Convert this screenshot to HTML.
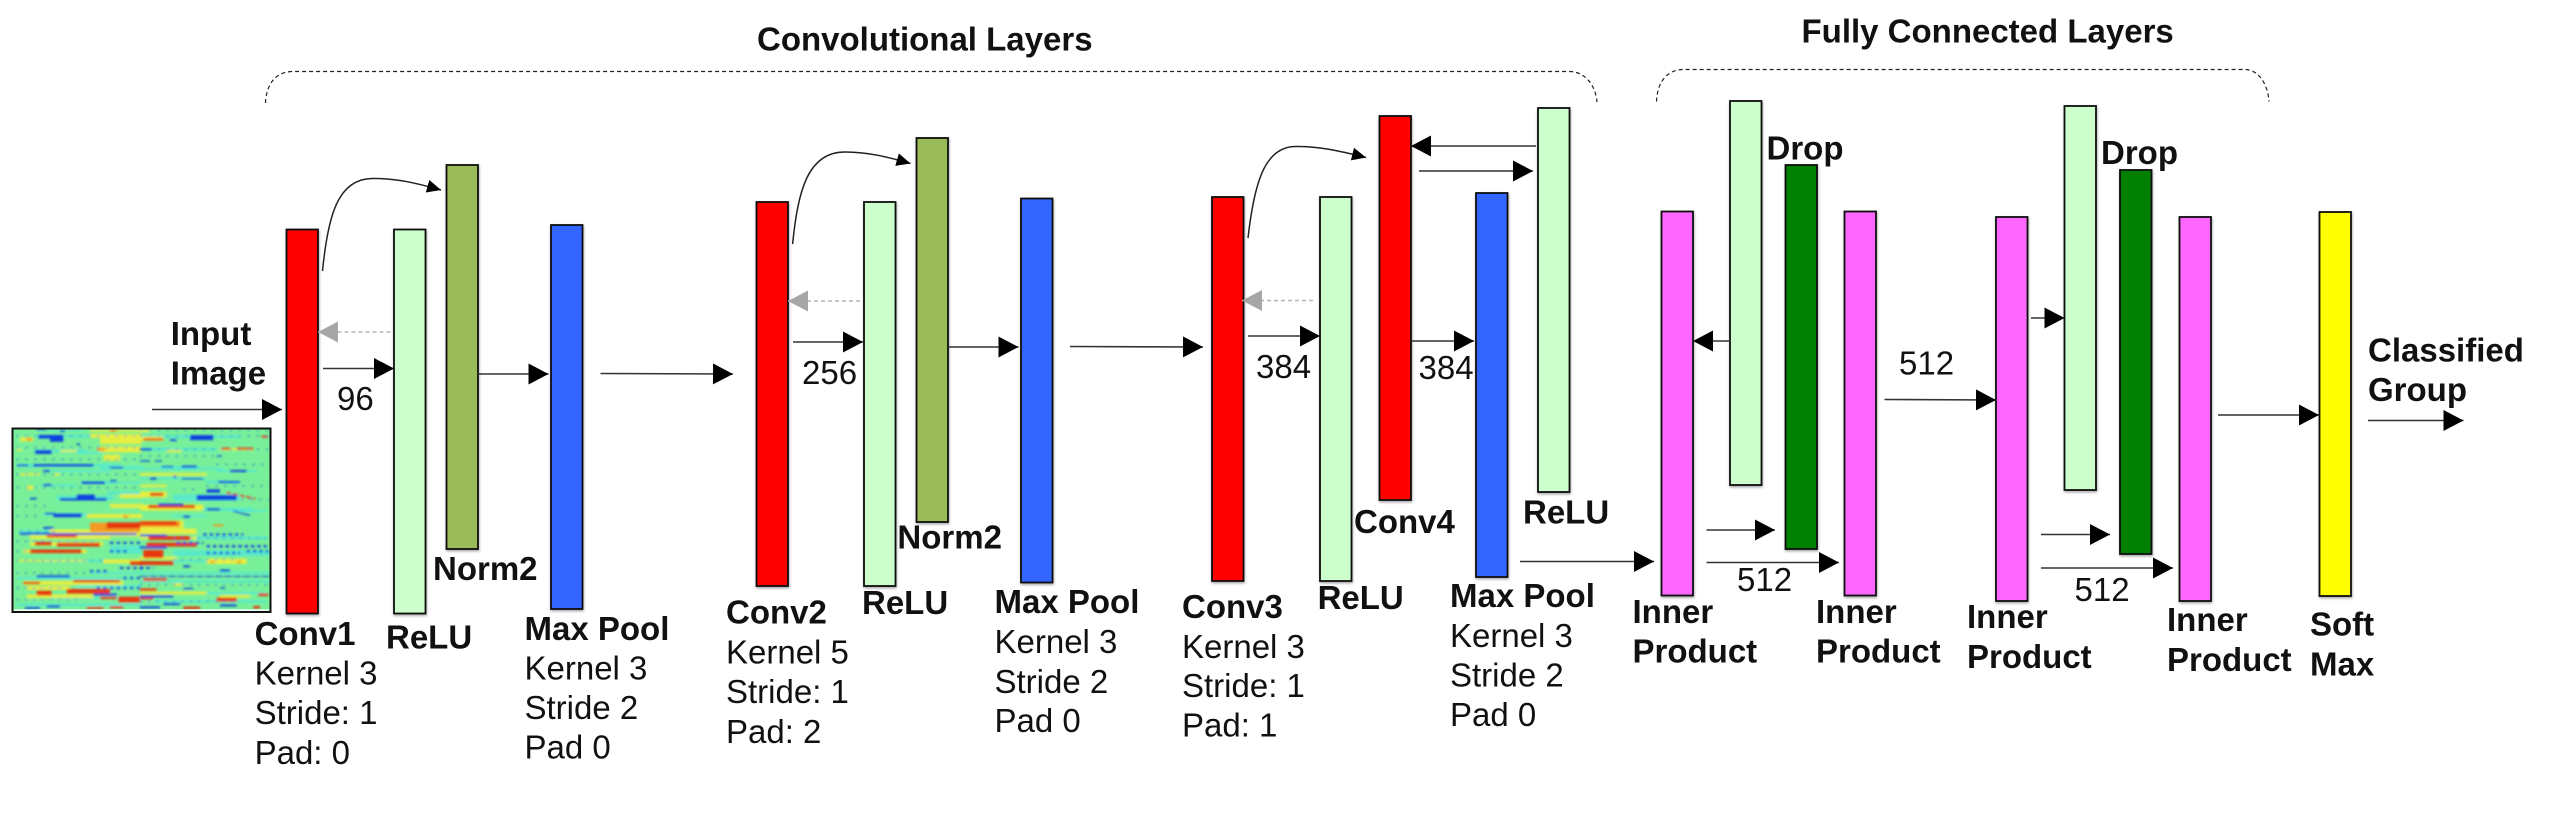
<!DOCTYPE html>
<html><head><meta charset="utf-8"><title>CNN architecture</title>
<style>
html,body{margin:0;padding:0;background:#fff}
svg{display:block}
text{font-family:"Liberation Sans",Arial,sans-serif;font-size:33px;fill:#111}
.b{font-weight:bold}
.ln line{stroke:#333;stroke-width:1.6;marker-end:url(#ah)}
.bars rect{stroke:#111;stroke-width:1.8;filter:url(#sh)}
.q{filter:url(#bl);fill:none}
.c path{stroke:#4ce6de;opacity:.7}.y path{stroke:#e6ee42}.o path{stroke:#f29a20}.r path{stroke:#e8380f}.u path{stroke:#0d3fe0}
</style></head>
<body>
<svg width="2558" height="816" viewBox="0 0 2558 816" xmlns="http://www.w3.org/2000/svg">
<defs>
<marker id="ah" markerUnits="userSpaceOnUse" markerWidth="22" markerHeight="22" refX="20" refY="10.5" orient="auto"><path d="M0 0L20 10.5L0 21Z" fill="#000"/></marker>
<marker id="ag" markerUnits="userSpaceOnUse" markerWidth="22" markerHeight="22" refX="20" refY="10.5" orient="auto"><path d="M0 0L20 10.5L0 21Z" fill="#a6a6a6"/></marker>
<marker id="as" markerUnits="userSpaceOnUse" markerWidth="16" markerHeight="16" refX="14" refY="6.5" orient="auto"><path d="M0 0L14 6.5L0 13Z" fill="#000"/></marker>
<filter id="sh" x="-30%" y="-5%" width="160%" height="110%"><feDropShadow dx="0.5" dy="1.5" stdDeviation="1.2" flood-color="#000" flood-opacity=".35"/></filter>
<filter id="bl" filterUnits="userSpaceOnUse" x="-20" y="-20" width="440" height="330"><feGaussianBlur stdDeviation="3"/></filter>
<clipPath id="hc"><rect x="12.500" y="428.500" width="257" height="183"/></clipPath>
</defs>

<!-- heatmap -->
<rect x="12.500" y="428.500" width="258" height="183.500" fill="#78f09a"/>
<g clip-path="url(#hc)">
<!-- top-left -->
<g class="q" transform="translate(10 426) scale(.33333)">
<g class="c"><path stroke-width="6" d="M80 12H220M90 178H200M200 80H280M300 170H396M100 135H300"/><path stroke-width="9" d="M80 30H240M70 75H230M20 118H330M210 170H300M100 265H240M290 200H396M270 125H396"/><path stroke-width="14" d="M140 215H310"/></g>
<g class="y"><path stroke-width="12" d="M30 40H70M240 30H396M50 185H70M330 210H396M300 240H396M230 270H396"/><path stroke-width="18" d="M270 70H396M280 95H330M270 45H396"/><path stroke-width="6" d="M20 72H35M30 145H90M130 145H150M240 15H396M150 75H200"/></g>
<g class="o"><path stroke-width="8" d="M300 13H320M260 70H285M340 272H355M50 40H65"/></g>
<g class="u"><path stroke-width="11" d="M85 32H160M120 42H160M75 78H125M130 268H215"/><path stroke-width="5" d="M150 15H165M80 10H110M20 118H55M100 135H120M300 125H340M100 177H125M300 165H320M60 218H80M105 263H135M200 55H210"/><path stroke-width="7" d="M70 118H250M215 170H285M150 220H290"/><path stroke-width="16" d="M200 214H255"/><path stroke-width="3" stroke-dasharray="5 22" d="M20 30H396M20 65H396M20 100H396M20 145H396M20 185H396M20 240H120M20 270H100"/></g>
</g>
<!-- top-right -->
<g class="q" transform="translate(140 426) scale(.33333)">
<g class="c"><path stroke-width="9" d="M0 32H300M0 70H230M60 125H180M200 168H300M180 250H340"/><path stroke-width="6" d="M0 128H250M230 135H350M0 158H200M270 255H380M100 270H200"/><path stroke-width="20" d="M100 215H300"/></g>
<g class="y"><path stroke-width="18" d="M0 205H80M0 245H190"/><path stroke-width="14" d="M0 38H70"/><path stroke-width="7" d="M0 145H200M80 75H125M240 70H340M0 15H30M0 180H80"/></g>
<g class="r"><path stroke-width="9" d="M25 242H165M30 205H70"/><path stroke-width="6" d="M290 68H340M245 68H270M365 32H385M10 40H70"/><path stroke-width="5" stroke-dasharray="14 6" d="M260 200L345 218"/></g>
<g class="u"><path stroke-width="15" d="M150 35H220M170 215H290"/><path stroke-width="6" d="M55 236H130M90 42H110M125 122H170M235 168H300M270 135H320M30 158H50M100 152H110M130 272H150M200 250H240M0 70H35"/><path stroke-width="4" d="M0 105H30M45 105H65M65 122H100M125 158H190M280 255L330 268M230 90H245"/><path stroke-width="10" d="M200 195H240"/><path stroke-width="3" stroke-dasharray="5 22" d="M0 12H396M0 30H396M0 70H396M0 90H220M230 115H396M200 180H396M130 190H180M250 220H390"/></g>
</g>
<!-- bottom-left -->
<g class="q" transform="translate(10 518) scale(.33333)">
<g class="c"><path stroke-width="7" d="M25 40H396M100 128H320M240 165H396M20 180H380M200 205H396M120 240H396M20 260H396"/><path stroke-width="24" d="M300 95H396"/></g>
<g class="y"><path stroke-width="22" d="M120 45H396"/><path stroke-width="11" d="M60 58H300M60 78H280M40 100H230M50 210H180M50 235H250"/><path stroke-width="5" d="M20 128H230"/><path stroke-width="12" d="M280 20H396M280 130H396M40 195H340"/></g>
<g class="o"><path stroke-width="28" d="M240 28H396"/></g>
<g class="r"><path stroke-width="18" d="M290 22H396M325 245H390"/><path stroke-width="11" d="M75 77H125M140 80H270M60 100H215M360 135H396"/><path stroke-width="7" d="M110 55H200M40 195H90M190 190H330M270 240H320M230 270H280M300 268H340"/><path stroke-width="15" d="M80 225H125M170 220H300"/></g>
<g class="u"><path stroke-width="6" d="M30 47H130M130 48H380M80 175H180M250 230H320M110 265H150M45 270H90M100 30H130"/><path stroke-width="7" stroke-dasharray="10 10" d="M300 75H396M300 100H360M330 150H396M240 160H300M340 180H396M260 210H396"/><path stroke-width="3" stroke-dasharray="5 20" d="M20 70H270M20 100H60M20 128H280M20 165H240M20 210H160M20 245H220M30 40H140"/></g>
</g>
<!-- bottom-right -->
<g class="q" transform="translate(140 518) scale(.33333)">
<g class="c"><path stroke-width="10" d="M100 60H380"/><path stroke-width="18" d="M100 105H396"/><path stroke-width="7" d="M100 130H300M0 165H396M0 190H396M60 225H380M40 250H380"/></g>
<g class="y"><path stroke-width="26" d="M0 20H130"/><path stroke-width="16" d="M0 40H170M200 130H320"/><path stroke-width="8" d="M100 200H130M0 225H200M240 235H330M0 60H170M0 120H110"/></g>
<g class="o"><path stroke-width="18" d="M0 18H120"/><path stroke-width="6" d="M220 22H250M210 132H225M290 132H305"/></g>
<g class="r"><path stroke-width="12" d="M0 15H110M25 60H150M20 80H170M0 135H100M230 245H290"/><path stroke-width="24" d="M10 108H70"/><path stroke-width="8" d="M0 215H50M0 240H40M10 185H80M130 270H180M340 268H360M355 230H385"/></g>
<g class="u"><path stroke-width="6" d="M0 52H80M0 88H80M240 158H270M130 145H150M0 268H60M70 258H120M240 262H290M0 235H100"/><path stroke-width="7" stroke-dasharray="10 9" d="M190 50H310M110 75H190M200 85H380M200 105H300M0 150H40M320 100H385"/><path stroke-width="3.500" stroke-dasharray="24 4" d="M0 175H396"/><path stroke-width="4" d="M130 212H160M240 210H256"/><path stroke-width="3" stroke-dasharray="5 20" d="M100 60H396M100 125H300M0 200H396M0 250H300"/></g>
</g>
</g>
<path d="M13 610.300H269" stroke="#eafff4" stroke-width="2"/>
<rect x="12.500" y="428.500" width="258" height="183.500" fill="none" stroke="#111" stroke-width="2"/>

<!-- dashed brackets -->
<g fill="none" stroke="#222" stroke-width="1.2" stroke-dasharray="4 3">
<path d="M265.500 103C266 88 273 72 292 71.500H1570C1587 72 1596 88 1597 102"/>
<path d="M1656.500 101.500C1657 86 1664 70 1683 69.500H2245C2260 70 2268 86 2269 101.500"/>
</g>

<!-- bars -->
<g class="bars">
<rect x="286.500" y="229.500" width="31.500" height="384" fill="#ff0000"/>
<rect x="394" y="229.500" width="31.500" height="384" fill="#ccffcc"/>
<rect x="446.500" y="165" width="31.500" height="384" fill="#9bbb59"/>
<rect x="551" y="225" width="31.500" height="384" fill="#3366ff"/>
<rect x="756.500" y="202" width="31.500" height="384" fill="#ff0000"/>
<rect x="864" y="202" width="31.500" height="384" fill="#ccffcc"/>
<rect x="916.500" y="138" width="31.500" height="384" fill="#9bbb59"/>
<rect x="1021" y="198.500" width="31.500" height="384" fill="#3366ff"/>
<rect x="1212" y="197" width="31.500" height="384" fill="#ff0000"/>
<rect x="1320" y="197" width="31.500" height="384" fill="#ccffcc"/>
<rect x="1379.500" y="116" width="31.500" height="384" fill="#ff0000"/>
<rect x="1476" y="193" width="31.500" height="384" fill="#3366ff"/>
<rect x="1538" y="108" width="31.500" height="384" fill="#ccffcc"/>
<rect x="1661.500" y="211.500" width="31.500" height="384" fill="#ff66ff"/>
<rect x="1730" y="101" width="31.500" height="384" fill="#ccffcc"/>
<rect x="1785.500" y="165" width="31.500" height="384" fill="#008000"/>
<rect x="1844.500" y="211.500" width="31.500" height="384" fill="#ff66ff"/>
<rect x="1996" y="217" width="31.500" height="384" fill="#ff66ff"/>
<rect x="2064.500" y="106" width="31.500" height="384" fill="#ccffcc"/>
<rect x="2120" y="170" width="31.500" height="384" fill="#008000"/>
<rect x="2179.500" y="217" width="31.500" height="384" fill="#ff66ff"/>
<rect x="2319.500" y="212" width="31.500" height="384" fill="#ffff00"/>
</g>

<!-- arrows -->
<g class="ln">
<line x1="152" y1="409.500" x2="282" y2="409.500"/>
<line x1="323" y1="368.500" x2="394" y2="368.500"/>
<line x1="478" y1="374" x2="548.500" y2="374"/>
<line x1="600.500" y1="373.500" x2="733" y2="374"/>
<line x1="793" y1="342" x2="863" y2="342"/>
<line x1="948" y1="347" x2="1018.500" y2="347"/>
<line x1="1070" y1="346.500" x2="1203" y2="347"/>
<line x1="1248" y1="336" x2="1320" y2="336"/>
<line x1="1411" y1="341" x2="1474" y2="341"/>
<line x1="1536" y1="146" x2="1411" y2="146"/>
<line x1="1419" y1="171" x2="1533" y2="171"/>
<line x1="1520" y1="561.500" x2="1654" y2="561.500"/>
<line x1="1730" y1="341" x2="1693" y2="341"/>
<line x1="1706.500" y1="530" x2="1775" y2="530"/>
<line x1="1706.500" y1="562.500" x2="1839" y2="562.500"/>
<line x1="1884.500" y1="399.500" x2="1996" y2="400"/>
<line x1="2031" y1="318" x2="2064.500" y2="318"/>
<line x1="2041" y1="534.500" x2="2110" y2="534.500"/>
<line x1="2041" y1="568" x2="2173" y2="568"/>
<line x1="2218" y1="415" x2="2319" y2="415"/>
<line x1="2368" y1="420.500" x2="2463.500" y2="420.500"/>
</g>
<g stroke="#b5b5b5" stroke-width="1.6" stroke-dasharray="4 3" fill="none">
<line x1="390.500" y1="332" x2="318" y2="332" marker-end="url(#ag)"/>
<line x1="860" y1="301" x2="788" y2="301" marker-end="url(#ag)"/>
<line x1="1313" y1="300.500" x2="1242" y2="300.500" marker-end="url(#ag)"/>
</g>
<g fill="none" stroke="#222" stroke-width="1.5">
<path d="M322.500 271C328 215 338 179 372 178.500C395 178 416 183 441 190" marker-end="url(#as)"/>
<path d="M792.600 244C798 190 808 152 845 152C868 152 888 157 910.500 163.500" marker-end="url(#as)"/>
<path d="M1248 238C1254 185 1264 147 1295 146.500C1318 146 1340 151 1366 157.500" marker-end="url(#as)"/>
</g>

<!-- labels -->
<g transform="translate(-1 -0.800)">
<text class="b" x="758" y="51.300">Convolutional Layers</text>
<text class="b" x="1802.500" y="43.500">Fully Connected Layers</text>
<text class="b" x="171.700" y="346">Input</text>
<text class="b" x="171.700" y="385.500">Image</text>
<text x="338" y="411">96</text>
<text class="b" x="434" y="581">Norm2</text>
<text class="b" x="255.600" y="646">Conv1</text>
<text x="255.600" y="685.500">Kernel 3</text>
<text x="255.600" y="725">Stride: 1</text>
<text x="255.600" y="764.600">Pad: 0</text>
<text class="b" x="387" y="649.500">ReLU</text>
<text class="b" x="525.500" y="640.600">Max Pool</text>
<text x="525.500" y="680.500">Kernel 3</text>
<text x="525.500" y="720">Stride 2</text>
<text x="525.500" y="759.500">Pad 0</text>
<text class="b" x="727" y="624.500">Conv2</text>
<text x="727" y="664.500">Kernel 5</text>
<text x="727" y="704">Stride: 1</text>
<text x="727" y="744">Pad: 2</text>
<text x="803" y="385">256</text>
<text class="b" x="863" y="614.600">ReLU</text>
<text class="b" x="898.400" y="549.500">Norm2</text>
<text class="b" x="995.500" y="614">Max Pool</text>
<text x="995.500" y="654">Kernel 3</text>
<text x="995.500" y="694">Stride 2</text>
<text x="995.500" y="733">Pad 0</text>
<text class="b" x="1183" y="619">Conv3</text>
<text x="1183" y="659">Kernel 3</text>
<text x="1183" y="698">Stride: 1</text>
<text x="1183" y="737.500">Pad: 1</text>
<text class="b" x="1318.600" y="610">ReLU</text>
<text x="1257" y="379">384</text>
<text x="1419.500" y="380">384</text>
<text class="b" x="1355" y="534">Conv4</text>
<text class="b" x="1524" y="524.500">ReLU</text>
<text class="b" x="1451" y="608">Max Pool</text>
<text x="1451" y="648">Kernel 3</text>
<text x="1451" y="687.500">Stride 2</text>
<text x="1451" y="726.600">Pad 0</text>
<text class="b" x="1633.500" y="624">Inner</text>
<text class="b" x="1633.500" y="663.500">Product</text>
<text class="b" x="1767.500" y="160.200">Drop</text>
<text class="b" x="1817" y="624">Inner</text>
<text class="b" x="1817" y="663.500">Product</text>
<text x="1738" y="591.600">512</text>
<text x="1900" y="375.500">512</text>
<text class="b" x="1968" y="629">Inner</text>
<text class="b" x="1968" y="669">Product</text>
<text class="b" x="2102" y="164.600">Drop</text>
<text x="2075.500" y="602">512</text>
<text class="b" x="2168" y="632">Inner</text>
<text class="b" x="2168" y="672">Product</text>
<text class="b" x="2311" y="636.500">Soft</text>
<text class="b" x="2311" y="676.500">Max</text>
<text class="b" x="2369" y="362.500">Classified</text>
<text class="b" x="2369" y="402">Group</text>
</g>
</svg>
</body></html>
